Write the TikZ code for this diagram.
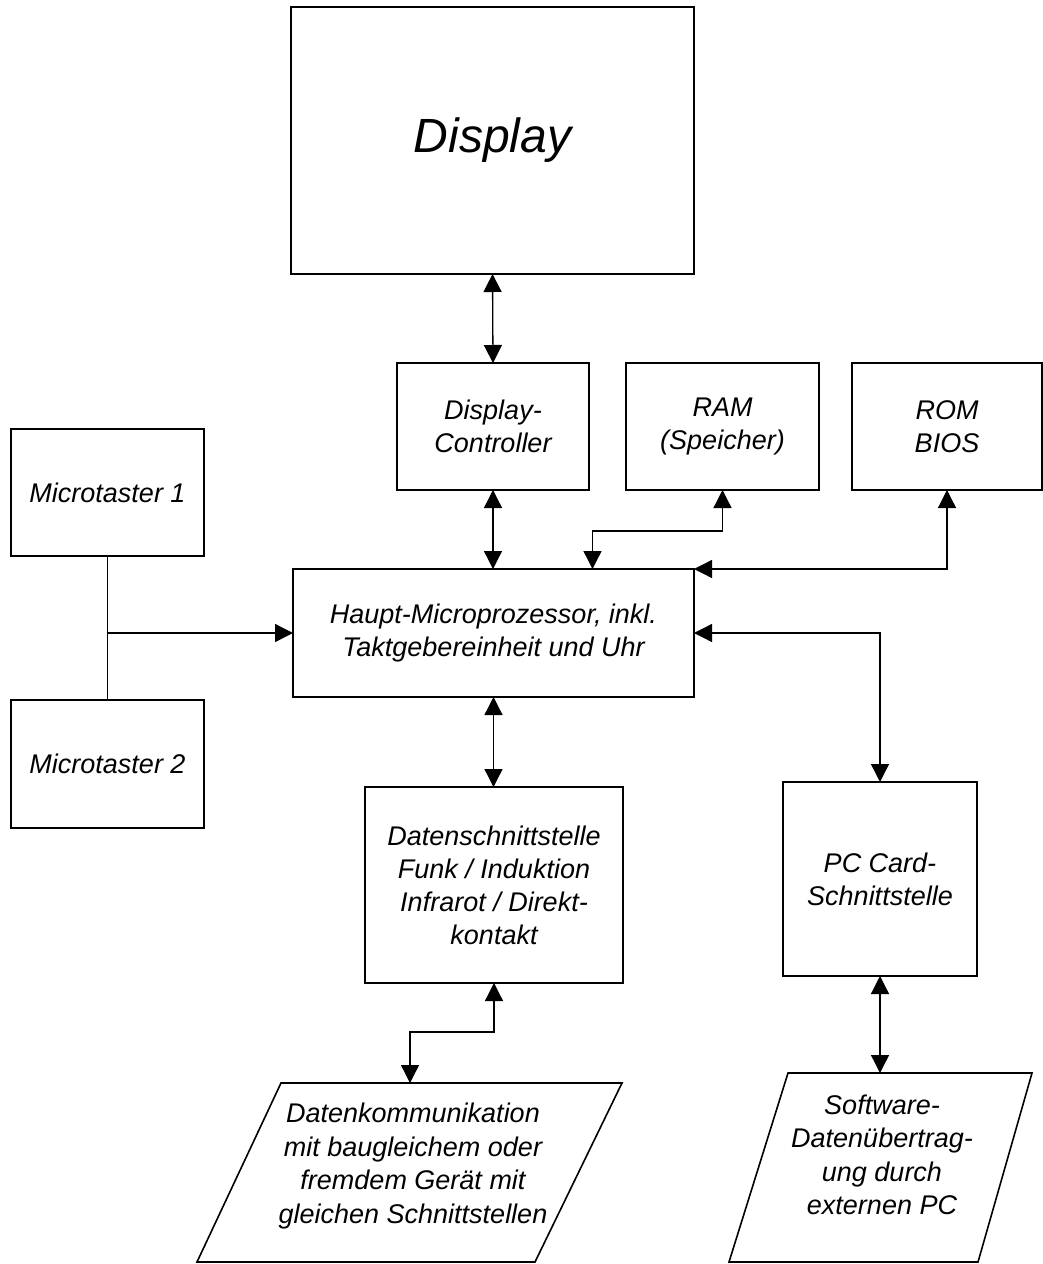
\documentclass[tikz,border=0pt]{standalone}
\usepackage{fontspec}
\setmainfont{Liberation Sans}
\usepackage{xcolor}
\definecolor{cLine}{HTML}{000000}
\usepackage{tikz}
\usetikzlibrary{positioning,arrows.meta,calc}
\tikzset{
  blk-box/.style={draw=cLine,line width=1.6pt,inner sep=0pt,outer sep=0pt,
    align=center,font=\fontsize{27}{33}\selectfont\itshape},
  blk-io/.style={draw=cLine,line width=1.6pt},
  blk-text/.style={align=center,inner sep=0pt,font=\fontsize{27}{33.5}\selectfont\itshape},
  wire/.style={draw=cLine,line width=1.3pt},
  arrow-in/.style={-{Triangle[length=18pt,width=18pt]},line width=1.3pt,draw=cLine},
  arrow-both/.style={{Triangle[length=18pt,width=18pt]}-{Triangle[length=18pt,width=18pt]},
    line width=1.3pt,draw=cLine},
}

\begin{document}
\begin{tikzpicture}[x=1pt,y=-1pt]
  \useasboundingbox (0,0) rectangle (1043,1264);
  % obere Reihe
  \node[blk-box,minimum width=403pt,minimum height=267pt,
    font=\fontsize{48}{56}\selectfont\itshape] (disp) at (492.5,140.5) {Display};
  \node[blk-box,minimum width=192pt,minimum height=127pt] (ctrl) at (493,426.5) {Display-\\Controller};
  \node[blk-box,minimum width=193pt,minimum height=127pt] (ram) at (722.5,426.5) {RAM\\(Speicher)};
  \node[blk-box,minimum width=190pt,minimum height=127pt] (rom) at (947,426.5) {ROM\\BIOS};
  % Mitte
  \node[blk-box,minimum width=193pt,minimum height=127pt] (mt1) at (107.5,492.5) {Microtaster 1};
  \node[blk-box,minimum width=193pt,minimum height=128pt] (mt2) at (107.5,764) {Microtaster 2};
  \node[blk-box,minimum width=401pt,minimum height=128pt] (cpu) at (493.5,633)
    {Haupt-Microprozessor, inkl.\\Taktgebereinheit und Uhr};
  \node[blk-box,minimum width=258pt,minimum height=196pt] (dif) at (494,885)
    {Datenschnittstelle\\Funk / Induktion\\Infrarot / Direkt-\\kontakt};
  \node[blk-box,minimum width=194pt,minimum height=194pt] (pcc) at (880,879)
    {PC Card-\\Schnittstelle};
  % Ein-/Ausgabe
  \draw[blk-io] (281,1083) -- (622,1083) -- (535,1262) -- (197,1262) -- cycle;
  \coordinate (io1-top) at (410,1083);
  \node[blk-text] (io1) at (413,1166)
    {Datenkommunikation\\mit baugleichem oder\\fremdem Gerät mit\\gleichen Schnittstellen};
  \draw[blk-io] (788,1073) -- (1032,1073) -- (978,1262) -- (729,1262) -- cycle;
  \coordinate (io2-top) at (880,1073);
  \node[blk-text] (io2) at (882,1155)
    {Software-\\Datenübertrag-\\ung durch\\externen PC};
  % Verbindungen
  \draw[arrow-both] (disp.south) -- (ctrl.north);
  \draw[arrow-both] (ctrl.south) -- (ctrl.south |- cpu.north);
  \draw[arrow-both] (ram.south) -- ++(0,41) -| ([xshift=99pt]cpu.north);
  \draw[arrow-both] (rom.south) |- (cpu.north east);
  \draw[wire] (mt1.south) -- (mt2.north);
  \draw[arrow-in] (mt1.south |- cpu.west) -- (cpu.west);
  \draw[arrow-both] (cpu.east) -| (pcc.north);
  \draw[arrow-both] (cpu.south) -- (cpu.south |- dif.north);
  \draw[arrow-both] (dif.south) -- ++(0,49) -| (io1-top);
  \draw[arrow-both] (pcc.south) -- (io2-top);
\end{tikzpicture}
\end{document}
